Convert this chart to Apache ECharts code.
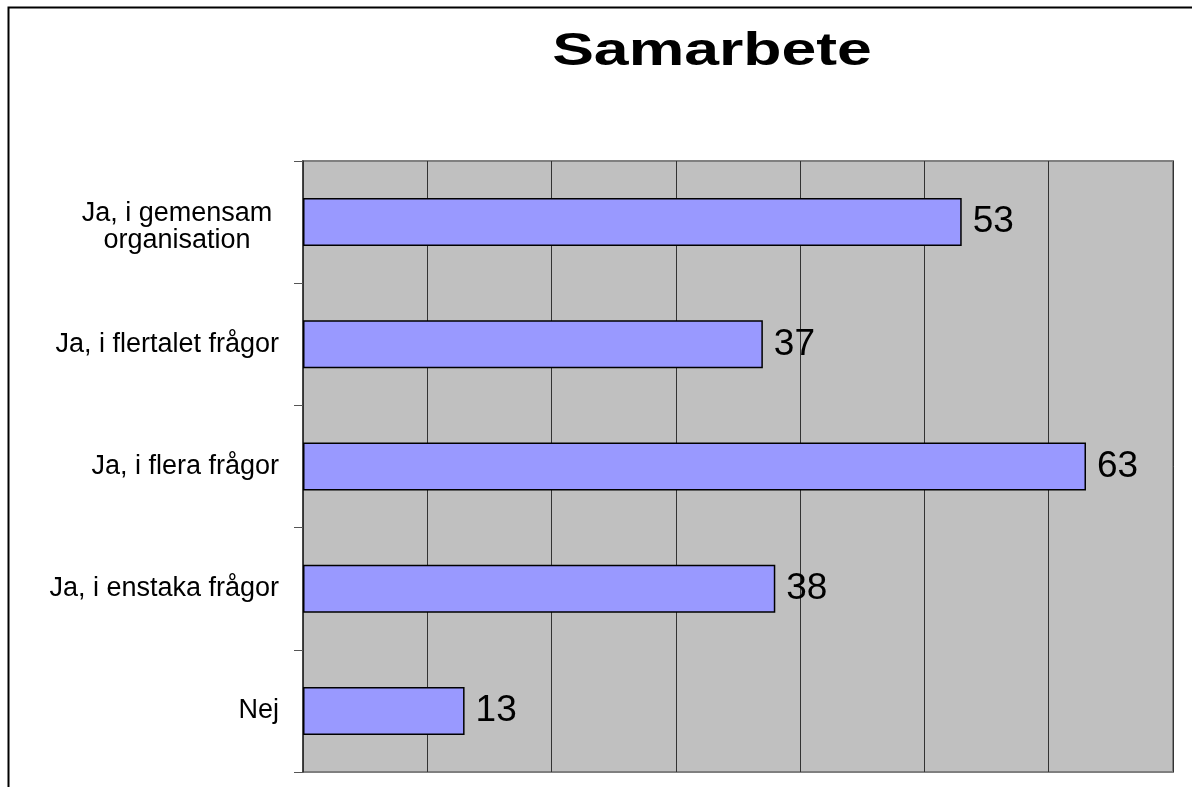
<!DOCTYPE html>
<html>
<head>
<meta charset="utf-8">
<title>Samarbete</title>
<script src="https://cdn.jsdelivr.net/npm/echarts@6/dist/echarts.min.js"></script>
<style>
    html, body { margin: 0; padding: 0; background: #fff; }
    #bar { width: 1192px; height: 787px; }
</style>
</head>
<body>
<div id="bar"></div>
<script>
var titleText = 'Samarbete';
var categories = ['Ja, i gemensam\norganisation', 'Ja, i flertalet frågor', 'Ja, i flera frågor', 'Ja, i enstaka frågor', 'Nej'];
var values = [53, 37, 63, 38, 13];
var axisMin = 0;
var axisMax = 70;
var axisStep = 10;

var font = '"Liberation Sans", Arial, sans-serif';

var mychart = echarts.init(document.getElementById('bar'));
var option = {
    backgroundColor: '#fff',
    animation: false,
    graphic: [
        // ram runt hela bilden
        {
            type: 'rect',
            left: 6, top: 5,
            shape: { width: 1200, height: 800 },
            style: { fill: 'none', stroke: '#000', lineWidth: 2 },
            silent: true
        },
        // rubriken, lite utdragen på bredden som i originalet
        {
            type: 'text',
            x: 712, y: 52,
            scaleX: 1.33,
            style: {
                text: titleText,
                x: 0, y: 0,
                align: 'center',
                verticalAlign: 'middle',
                font: 'bold 47px ' + font,
                fill: '#000'
            },
            silent: true
        }
    ],
    grid: {
        left: 303,
        right: 19,
        top: 161,
        bottom: 15,
        show: true,
        backgroundColor: '#c0c0c0',
        borderColor: '#808080',
        borderWidth: 2
    },
    xAxis: {
        type: 'value',
        min: axisMin,
        max: axisMax,
        interval: axisStep,
        axisLine: { show: false },
        axisTick: { show: false },
        axisLabel: { show: false },
        splitLine: { show: true, lineStyle: { color: '#333', width: 1 } }
    },
    yAxis: {
        type: 'category',
        inverse: true,
        data: categories,
        axisLine: { show: true, lineStyle: { color: '#333', width: 1.5 } },
        axisTick: { show: true, length: 9, lineStyle: { color: '#555', width: 1 } },
        axisLabel: {
            margin: 24,
            color: '#000',
            fontFamily: font,
            fontSize: 27,
            lineHeight: 27,
            formatter: function (v) {
                if (v.indexOf('\n') < 0) return v;
                // tvåradig etikett: centrerade rader, lite nedflyttad
                return '{e|}\n' + v.split('\n').map(function (s) { return '{m|' + s + '}'; }).join('\n');
            },
            rich: {
                e: { height: 10, lineHeight: 10 },
                m: { width: 204, align: 'center', fontSize: 27, lineHeight: 27, fontFamily: font, color: '#000' }
            }
        }
    },
    series: [{
        type: 'bar',
        data: values,
        barWidth: 48,
        itemStyle: { color: '#9999ff', borderColor: '#000', borderWidth: 1.5 },
        label: {
            show: true,
            position: 'right',
            distance: 11,
            color: '#000',
            fontFamily: font,
            fontSize: 37
        }
    }]
};
mychart.setOption(option, true);
</script>
</body>
</html>
